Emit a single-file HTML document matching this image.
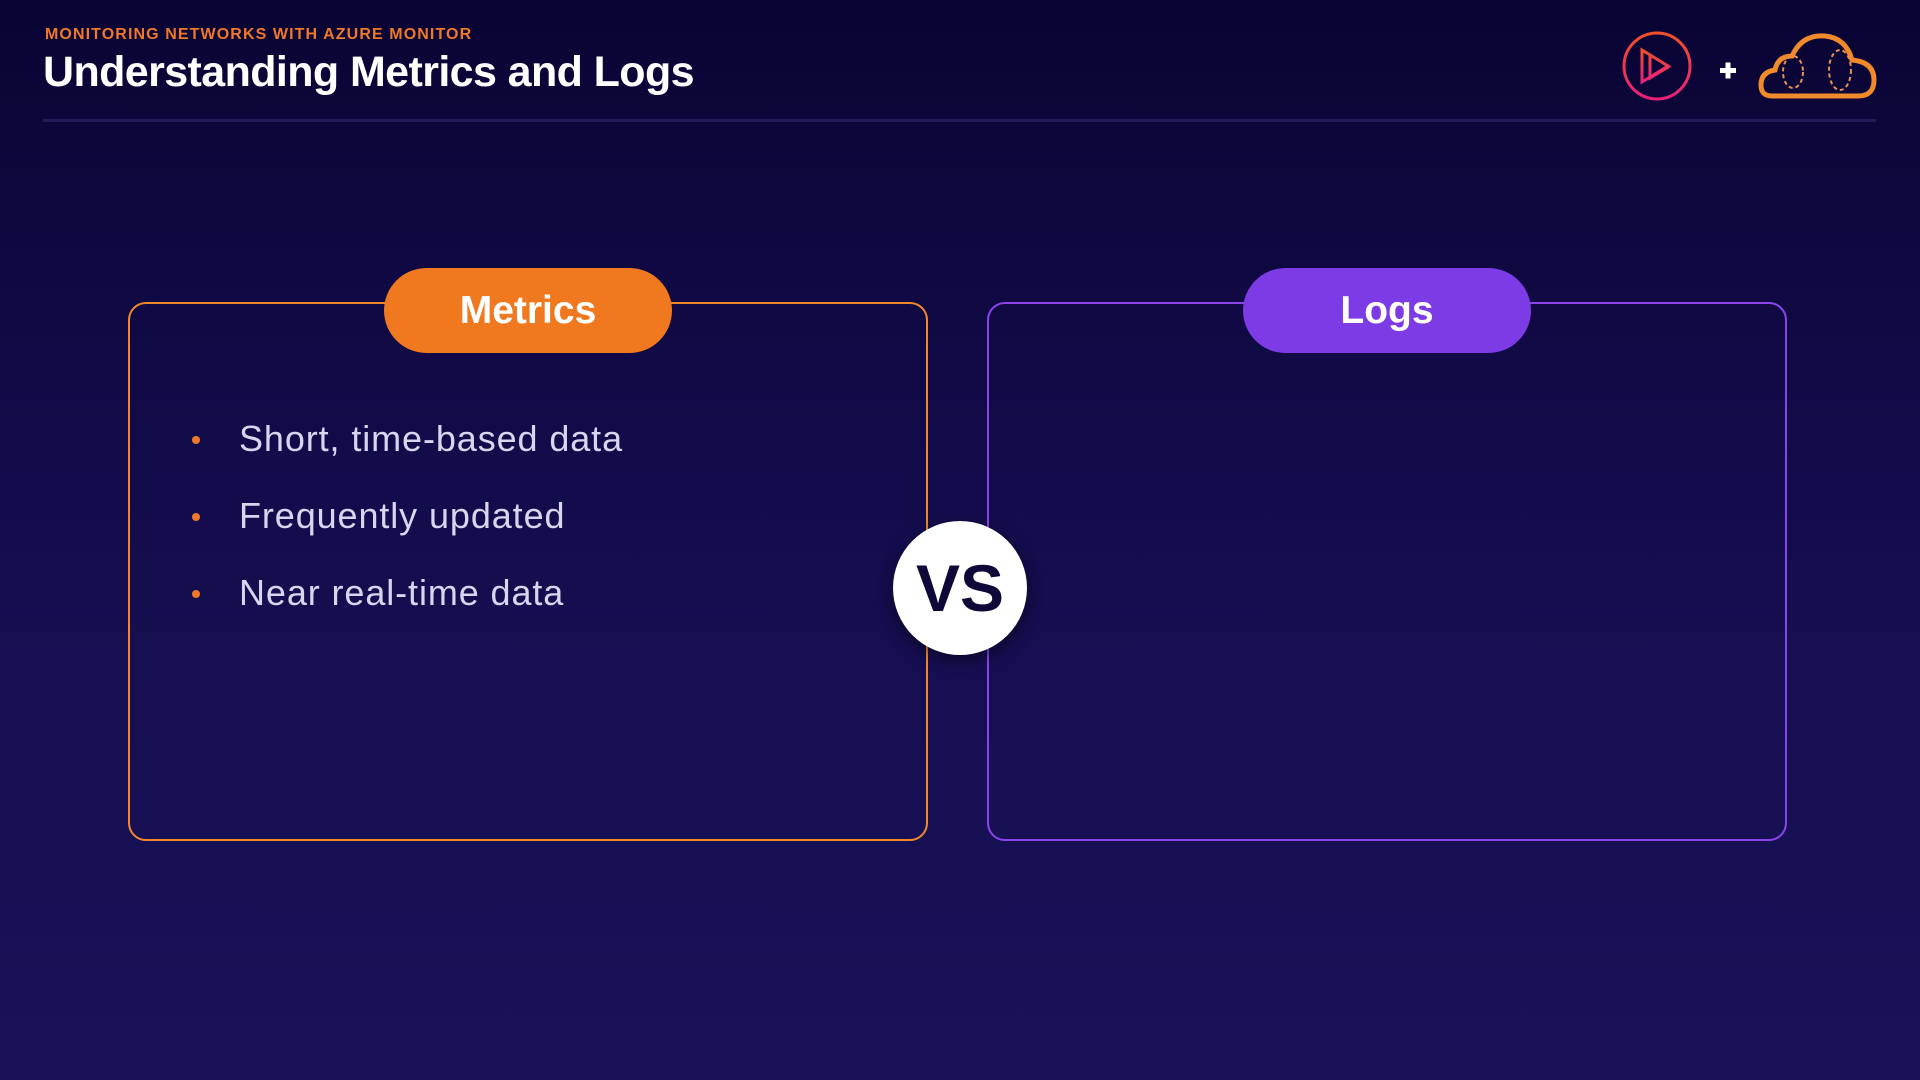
<!DOCTYPE html>
<html><head><meta charset="utf-8"><style>
*{margin:0;padding:0;box-sizing:border-box}
body{width:1920px;height:1080px;overflow:hidden;background:linear-gradient(180deg,#0a0434 0%,#130c4c 45%,#1a1259 100%);font-family:"Liberation Sans",sans-serif;position:relative}
.sub{position:absolute;left:45px;top:26px;font-size:16px;font-weight:bold;color:#f0782a;letter-spacing:1.1px}
.title{position:absolute;left:43px;top:48px;font-size:43px;font-weight:bold;color:#fff;letter-spacing:-0.6px}
.rule{position:absolute;left:43px;top:119px;width:1833px;height:3px;background:#221c5a}
.box{position:absolute;top:302px;width:800px;height:539px;border-radius:18px;border:2px solid}
.pill{position:absolute;top:268px;width:288px;height:85px;border-radius:43px;color:#fff;font-weight:bold;font-size:39px;display:flex;align-items:center;justify-content:center}
.b{position:absolute;left:239px;font-size:36px;color:#d9d5ee;letter-spacing:0.9px}
.dot{position:absolute;left:192px;width:8px;height:8px;border-radius:50%;background:#f0782a}
.vs{position:absolute;left:893px;top:521px;width:134px;height:134px;border-radius:50%;background:#fff;box-shadow:0 4px 14px rgba(0,0,0,.5);display:flex;align-items:center;justify-content:center;font-size:66px;font-weight:900;color:#0d0838;font-family:"Liberation Sans",sans-serif}
</style></head><body>
<div class="sub">MONITORING NETWORKS WITH AZURE MONITOR</div>
<div class="title">Understanding Metrics and Logs</div>
<div class="rule"></div>
<svg style="position:absolute;left:1620px;top:28px" width="270" height="80" viewBox="0 0 270 80">
<defs><linearGradient id="g" x1="0" y1="0" x2="0" y2="1"><stop offset="0" stop-color="#f0502a"/><stop offset="1" stop-color="#e8207a"/></linearGradient></defs>
<circle cx="37" cy="38" r="33" fill="none" stroke="url(#g)" stroke-width="3"/>
<path d="M22 22 L22 54 L48 38 Z M30 26 L30 50 L50 38" fill="none" stroke="url(#g)" stroke-width="3"/>
<rect x="100" y="40" width="16" height="5" fill="#fff"/><rect x="105.5" y="34.5" width="5" height="16" fill="#fff"/>
<path d="M152 68 Q141 68 141 57 Q141 44 155 42 Q158 28 172 28 Q182 6 205 8 Q226 10 232 32 Q254 34 254 52 Q254 68 238 68 Z" fill="none" stroke="#f08a2a" stroke-width="5"/>
<ellipse cx="173" cy="44" rx="10" ry="16" fill="none" stroke="#e8905a" stroke-width="2" stroke-dasharray="4 3"/>
<ellipse cx="220" cy="42" rx="11" ry="20" fill="none" stroke="#e8905a" stroke-width="2" stroke-dasharray="4 3"/>
</svg>
<div class="box" style="left:128px;border-color:#f0882a"></div>
<div class="box" style="left:987px;border-color:#8a45ea"></div>
<div class="pill" style="left:384px;background:#f0781e">Metrics</div>
<div class="pill" style="left:1243px;background:#7d3be6">Logs</div>
<div class="dot" style="top:436px"></div><div class="b" style="top:418px">Short, time-based data</div>
<div class="dot" style="top:513px"></div><div class="b" style="top:495px">Frequently updated</div>
<div class="dot" style="top:590px"></div><div class="b" style="top:572px">Near real-time data</div>
<div class="vs">VS</div>
</body></html>
